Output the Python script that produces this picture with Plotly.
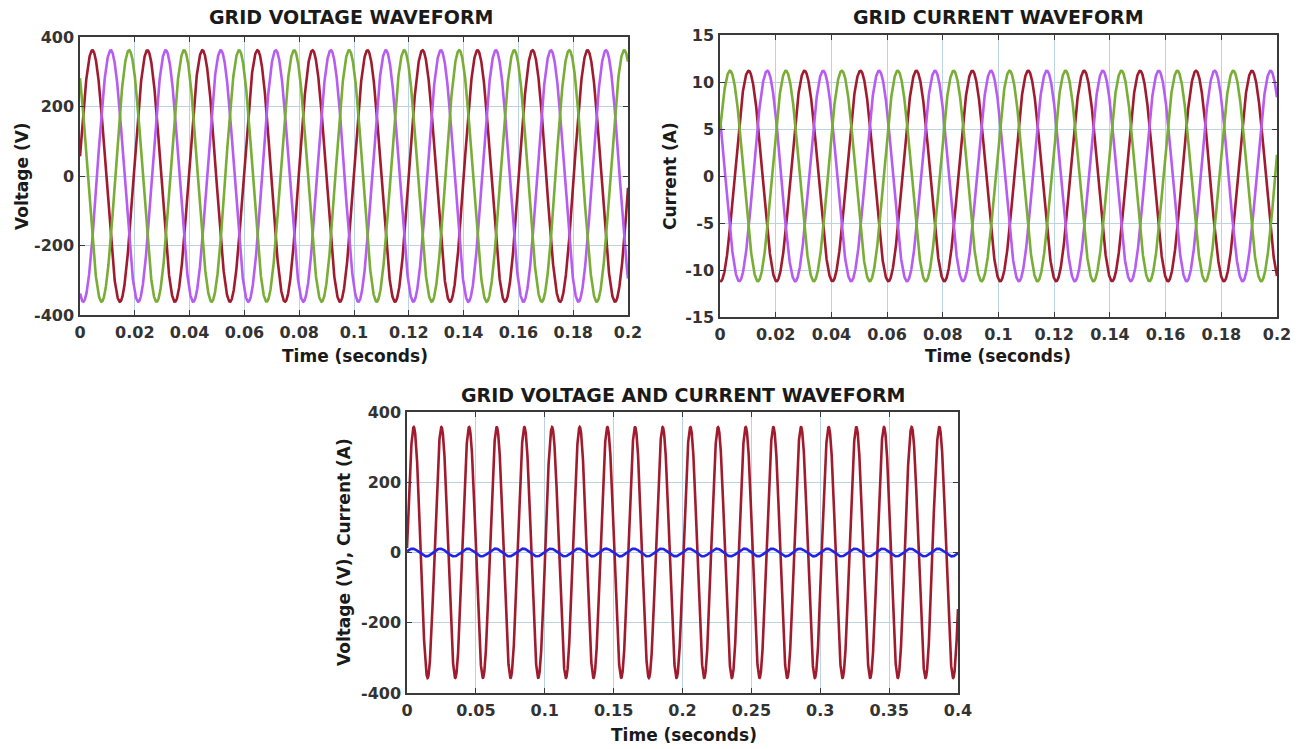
import numpy as np
import plotly.graph_objects as go

# ---------------- data ----------------
freq_hz = 49.8                      # grid frequency
phase_names = ["Phase A", "Phase B", "Phase C"]

# top-left: grid voltage, three phases
v_amplitude = [362, 362, 362]       # V
v_phase_deg = [9, -111, 129]        # degrees

# top-right: grid current, three phases
i_amplitude = [11.2, 11.2, 11.2]    # A
i_phase_deg = [-94, -214, 26]       # degrees

# bottom: single phase voltage and current
vc_amplitude = [357, 11]            # V, A
vc_phase_deg = [2, 18]              # degrees
vc_names = ["Voltage", "Current"]

t_end_top = 0.2
t_end_bottom = 0.4

x_ticks_top = [0, 0.02, 0.04, 0.06, 0.08, 0.1, 0.12, 0.14, 0.16, 0.18, 0.2]
x_tick_text_top = ["0", "0.02", "0.04", "0.06", "0.08", "0.1", "0.12", "0.14", "0.16", "0.18", "0.2"]
y_ticks_v = [-400, -200, 0, 200, 400]
y_tick_text_v = ["-400", "-200", "0", "200", "400"]
y_ticks_i = [-15, -10, -5, 0, 5, 10, 15]
y_tick_text_i = ["-15", "-10", "-5", "0", "5", "10", "15"]
x_ticks_bottom = [0, 0.05, 0.1, 0.15, 0.2, 0.25, 0.3, 0.35, 0.4]
x_tick_text_bottom = ["0", "0.05", "0.1", "0.15", "0.2", "0.25", "0.3", "0.35", "0.4"]

titles = ["GRID VOLTAGE WAVEFORM", "GRID CURRENT WAVEFORM", "GRID VOLTAGE AND CURRENT WAVEFORM"]

# ---------------- styles ----------------
three_colors = ["#A01B2E", "#B65CF2", "#78AD36"]
bottom_colors = ["#A01B2E", "#2424E8"]
W, H = 1303, 749
FONT = "DejaVu Sans"
GRID = "#bcd3e3"


def wave(amp, ph_deg, t):
    return amp * np.sin(2 * np.pi * freq_hz * t + np.deg2rad(ph_deg))


t_top = np.linspace(0, t_end_top, 4001)
t_bot = np.linspace(0, t_end_bottom, 8001)

fig = go.Figure()
for k in range(3):
    fig.add_trace(go.Scatter(x=t_top, y=wave(v_amplitude[k], v_phase_deg[k], t_top), mode="lines",
                             line=dict(color=three_colors[k], width=2.6), name=phase_names[k],
                             xaxis="x", yaxis="y", showlegend=False))
for k in range(3):
    fig.add_trace(go.Scatter(x=t_top, y=wave(i_amplitude[k], i_phase_deg[k], t_top), mode="lines",
                             line=dict(color=three_colors[k], width=2.6), name=phase_names[k],
                             xaxis="x2", yaxis="y2", showlegend=False))
for k in range(2):
    fig.add_trace(go.Scatter(x=t_bot, y=wave(vc_amplitude[k], vc_phase_deg[k], t_bot), mode="lines",
                             line=dict(color=bottom_colors[k], width=2.6), name=vc_names[k],
                             xaxis="x3", yaxis="y3", showlegend=False))


def dom_x(a, b):
    return [a / W, b / W]


def dom_y(top, bottom):
    return [1 - bottom / H, 1 - top / H]


axis_common = dict(showline=True, linecolor="#3a3a3a", linewidth=1.5, mirror="ticks",
                   ticks="inside", ticklen=5, tickcolor="#3a3a3a", showgrid=True,
                   gridcolor=GRID, gridwidth=1, zeroline=False, automargin=False,
                   tickfont=dict(family=FONT, size=16, color="#333333", weight="bold"))
xax = dict(ticklabelstandoff=2, **axis_common)
yax = dict(ticklabelstandoff=1, **axis_common)

fig.update_layout(
    width=W, height=H, margin=dict(l=0, r=0, t=0, b=0, autoexpand=False),
    paper_bgcolor="white", plot_bgcolor="white", showlegend=False,
    xaxis=dict(domain=dom_x(80, 628), range=[0, t_end_top], tickvals=x_ticks_top,
               ticktext=x_tick_text_top, anchor="y", **xax),
    yaxis=dict(domain=dom_y(37, 315), range=[-400, 400], tickvals=y_ticks_v,
               ticktext=y_tick_text_v, anchor="x", **yax),
    xaxis2=dict(domain=dom_x(720, 1277), range=[0, t_end_top], tickvals=x_ticks_top,
                ticktext=x_tick_text_top, anchor="y2", **xax),
    yaxis2=dict(domain=dom_y(35, 317), range=[-15, 15], tickvals=y_ticks_i,
                ticktext=y_tick_text_i, anchor="x2", **yax),
    xaxis3=dict(domain=dom_x(407, 958), range=[0, t_end_bottom], tickvals=x_ticks_bottom,
                ticktext=x_tick_text_bottom, anchor="y3", **xax),
    yaxis3=dict(domain=dom_y(412, 693), range=[-400, 400], tickvals=y_ticks_v,
                ticktext=y_tick_text_v, anchor="x3", **yax),
)


def ann(text, x, y, size, angle=0):
    fig.add_annotation(text=f"<b>{text}</b>", x=x / W, y=1 - y / H, xref="paper", yref="paper",
                       showarrow=False, textangle=angle, xanchor="center", yanchor="middle",
                       font=dict(family=FONT, size=size, color="#1a1a1a"))


ann(titles[0], 351, 17, 19)
ann(titles[1], 998, 17, 19)
ann(titles[2], 684, 395, 19)
ann("Time (seconds)", 355, 356, 17)
ann("Time (seconds)", 998, 356, 17)
ann("Time (seconds)", 684, 735, 17)
ann("Voltage (V)", 22, 176, 17, -90)
ann("Current (A)", 670, 176, 17, -90)
ann("Voltage (V), Current (A)", 344, 552, 17, -90)

fig.write_html("out.html", config={"displayModeBar": False},
               post_script="document.body.style.margin='0';document.body.style.overflow='hidden';")
